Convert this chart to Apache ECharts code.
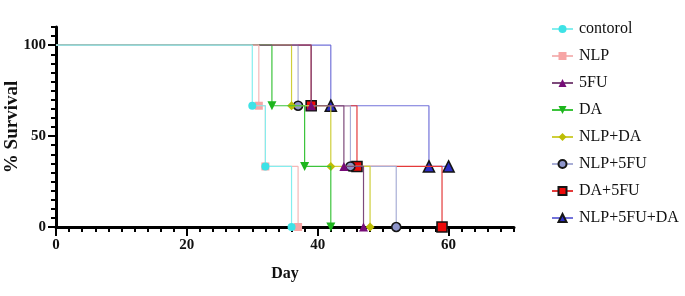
<!DOCTYPE html>
<html>
<head>
<meta charset="utf-8">
<script src="https://cdn.jsdelivr.net/npm/echarts@6/dist/echarts.min.js"></script>
<style>
    html, body { margin: 0; padding: 0; background: #fff; }
    #survivalChart { width: 685px; height: 296px; }
</style>
</head>
<body>
<div id="survivalChart"></div>
<script>
// survival data, 3 animals per group (100 -> 66.7 -> 33.3 -> 0)
const groupNames = ['contorol', 'NLP', '5FU', 'DA', 'NLP+DA', 'NLP+5FU', 'DA+5FU', 'NLP+5FU+DA'];
const daysControl = [0, 30, 32, 36];
const daysNLP = [0, 31, 32, 37];
const days5FU = [0, 39, 44, 47];
const daysDA = [0, 33, 38, 42];
const daysNLPDA = [0, 36, 42, 48];
const daysNLP5FU = [0, 37, 45, 52];
const daysDA5FU = [0, 39, 46, 59];
const daysNLP5FUDA = [0, 42, 57, 60];
const survivalFull = [100, 66.7, 33.3, 0];
const survivalLast = [100, 66.7, 33.3, 33.3];
const xTickLabels = [0, 20, 40, 60];
const yTickLabels = [0, 50, 100];

const serif = '"Liberation Serif", "DejaVu Serif", serif';

let groups = [
    { days: daysControl, surv: survivalFull, line: '#84EEEE', fill: '#3EE2E6', border: null, symbol: 'circle', size: 8 },
    { days: daysNLP, surv: survivalFull, line: '#F4B8B8', fill: '#F7A5A5', border: null, symbol: 'rect', size: 8 },
    { days: days5FU, surv: survivalFull, line: '#7D4A7B', fill: '#760C78', border: null, symbol: 'triangle', size: 9 },
    { days: daysDA, surv: survivalFull, line: '#3CC43C', fill: '#1DB51D', border: null, symbol: 'triangle', size: 9, rotate: 180 },
    { days: daysNLPDA, surv: survivalFull, line: '#CFCF3A', fill: '#BDBD05', border: null, symbol: 'diamond', size: 9 },
    { days: daysNLP5FU, surv: survivalFull, line: '#A9AED6', fill: '#8E95CB', border: '#151515', symbol: 'circle', size: 9 },
    { days: daysDA5FU, surv: survivalFull, line: '#E43A3A', fill: '#EE0A0A', border: '#151515', symbol: 'rect', size: 10 },
    { days: daysNLP5FUDA, surv: survivalLast, line: '#7373DA', fill: '#2D2DC6', border: '#151515', symbol: 'triangle', size: 11 }
];

let series = groups.map(function (g, i) {
    let data = g.days.map(function (d, k) {
        let item = { value: [d, g.surv[k]] };
        if (k === 0) item.symbol = 'none';
        return item;
    });
    return {
        name: groupNames[i],
        type: 'line',
        step: 'end',
        data: data,
        z: 20 - i,
        symbol: g.symbol,
        symbolSize: g.size,
        symbolRotate: g.rotate || 0,
        showAllSymbol: true,
        animation: false,
        lineStyle: { color: g.line, width: 1.2 },
        itemStyle: {
            color: g.fill,
            borderColor: g.border || g.fill,
            borderWidth: g.border ? 1.6 : 0
        },
        emphasis: { disabled: true }
    };
});

let option = {
    animation: false,
    grid: { left: 56, right: 171, top: 27, bottom: 69, containLabel: false, outerBoundsMode: 'none' },
    legend: {
        orient: 'vertical',
        left: 546,
        top: 16,
        itemWidth: 21,
        itemHeight: 10,
        itemGap: 11,
        textStyle: { fontFamily: serif, fontSize: 16, color: '#111', lineHeight: 16, padding: [0, 0, 0, 1] },
        data: groupNames
    },
    xAxis: [
        {
            type: 'value', min: 0, max: 70, interval: 2,
            name: 'Day', nameLocation: 'middle', nameGap: 39,
            nameTextStyle: { fontFamily: serif, fontSize: 16, fontWeight: 'bold', color: '#111' },
            axisLine: { show: true, lineStyle: { color: '#000', width: 3 } },
            axisTick: { show: true, length: 5, lineStyle: { color: '#000', width: 2 } },
            axisLabel: { show: false },
            splitLine: { show: false }
        },
        {
            type: 'value', min: 0, max: 70, position: 'bottom',
            axisLine: { show: false },
            axisTick: { show: true, length: 9, customValues: xTickLabels, lineStyle: { color: '#000', width: 2 } },
            axisLabel: { show: true, customValues: xTickLabels, margin: 11, fontFamily: serif, fontSize: 15, fontWeight: 'bold', color: '#111' },
            splitLine: { show: false }
        }
    ],
    yAxis: [
        {
            type: 'value', min: 0, max: 110, interval: 5,
            name: '% Survival', nameLocation: 'middle', nameGap: 34, nameRotate: 90,
            nameTextStyle: { fontFamily: serif, fontSize: 19, fontWeight: 'bold', color: '#111' },
            axisLine: { show: true, lineStyle: { color: '#000', width: 3 } },
            axisTick: { show: true, length: 5, lineStyle: { color: '#000', width: 2 } },
            axisLabel: { show: false },
            splitLine: { show: false }
        },
        {
            type: 'value', min: 0, max: 110, position: 'left',
            axisLine: { show: false },
            axisTick: { show: true, length: 8, customValues: yTickLabels, lineStyle: { color: '#000', width: 2 } },
            axisLabel: { show: true, customValues: yTickLabels, margin: 10, fontFamily: serif, fontSize: 15, fontWeight: 'bold', color: '#111' },
            splitLine: { show: false }
        }
    ],
    series: series
};

let survivalChart = echarts.init(document.getElementById('survivalChart'));
survivalChart.setOption(option);
</script>
</body>
</html>
